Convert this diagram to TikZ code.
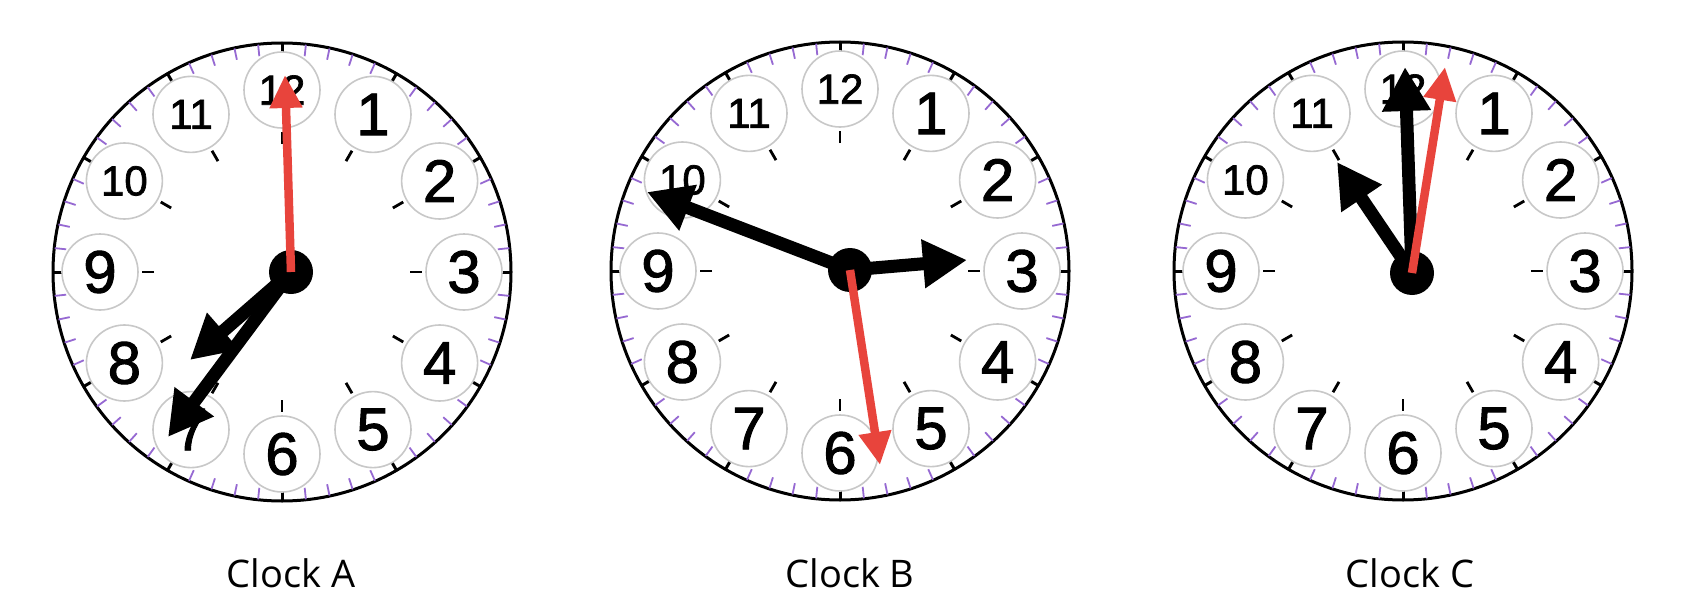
\documentclass[tikz,border=0pt]{standalone}
\usepackage{fontspec}
\setmainfont[FakeBold=1.6]{Liberation Sans}
\newfontfamily\labelfont{Open Sans}
\usetikzlibrary{arrows.meta,calc}
\definecolor{handred}{RGB}{232,68,60}
\definecolor{minpurple}{RGB}{150,105,210}
\definecolor{numring}{RGB}{200,200,200}
\tikzset{
 rim/.style={draw=black,line width=3pt,fill=white},
 mintick/.style={draw=minpurple,line width=1.8pt},
 hourtick/.style={draw=black,line width=3pt},
 innertick/.style={draw=black,line width=2.8pt},
 numdisc/.style={circle,draw=numring,line width=1.6pt,fill=white,minimum size=76pt,inner sep=0pt},
 bignum/.style={font=\fontsize{60}{60}\selectfont},
 smallnum/.style={font=\fontsize{42}{42}\selectfont},
 blackhand/.style={draw=black,line width=13pt,-{Triangle[length=44pt,width=46pt]}},
 redhand/.style={draw=handred,line width=8.5pt,-{Triangle[length=33pt,width=31pt]}},
 hubdot/.style={fill=black},
 caption/.style={font=\labelfont\fontsize{38}{38}\selectfont}
}
\newcommand{\myclockface}[1]{%
  \path[rim] (0,0) circle (229pt);
  \foreach \m in {1,...,59}{%
    \pgfmathtruncatemacro\mm{mod(\m,5)}%
    \ifnum\mm>0 \draw[mintick] (6*\m-90:217) -- (6*\m-90:228.5);\fi}
  \foreach \h in {1,...,12}{%
    \draw[hourtick] (30*\h-90:215) -- (30*\h-90:229);
    \draw[innertick] (30*\h-90:128) -- (30*\h-90:140);}
  \foreach \h in {1,...,9}{\node[numdisc,bignum] (#1-\h) at (30*\h-90:182) {\h};}
  \foreach \h in {10,11,12}{\node[numdisc,smallnum] (#1-\h) at (30*\h-90:182) {\h};}
}
\begin{document}
\begin{tikzpicture}[x=1pt,y=-1pt]
\useasboundingbox (0,0) rectangle (1699,602);
% Clock A
\begin{scope}[shift={(282,272)}]
  \myclockface{A}
  \coordinate (A-hub) at (9,0);
  \coordinate (A-red) at (3,-197);
  \coordinate (A-b1) at (-92,88);
  \coordinate (A-b2) at (-114,165);
  \fill[hubdot] (A-hub) circle (22pt);
  \draw[blackhand] (A-hub) -- (A-b1);
  \draw[blackhand] (A-hub) -- (A-b2);
  \draw[redhand] (A-hub) -- (A-red);
  \node[caption] (A-cap) at (9,301) {Clock A};
\end{scope}
% Clock B
\begin{scope}[shift={(840,271)}]
  \myclockface{B}
  \coordinate (B-hub) at (10,-1);
  \coordinate (B-red) at (40,194);
  \coordinate (B-b1) at (-193,-79);
  \coordinate (B-b2) at (127,-11);
  \fill[hubdot] (B-hub) circle (22pt);
  \draw[blackhand] (B-hub) -- (B-b1);
  \draw[blackhand] (B-hub) -- (B-b2);
  \draw[redhand] (B-hub) -- (B-red);
  \node[caption] (B-cap) at (10,302) {Clock B};
\end{scope}
% Clock C
\begin{scope}[shift={(1403,271)}]
  \myclockface{C}
  \coordinate (C-hub) at (9,2);
  \coordinate (C-red) at (42,-204);
  \coordinate (C-b1) at (2,-204);
  \coordinate (C-b2) at (-66,-109);
  \fill[hubdot] (C-hub) circle (22pt);
  \draw[blackhand] (C-hub) -- (C-b1);
  \draw[blackhand] (C-hub) -- (C-b2);
  \draw[redhand] (C-hub) -- (C-red);
  \node[caption] (C-cap) at (7,302) {Clock C};
\end{scope}
\end{tikzpicture}
\end{document}
